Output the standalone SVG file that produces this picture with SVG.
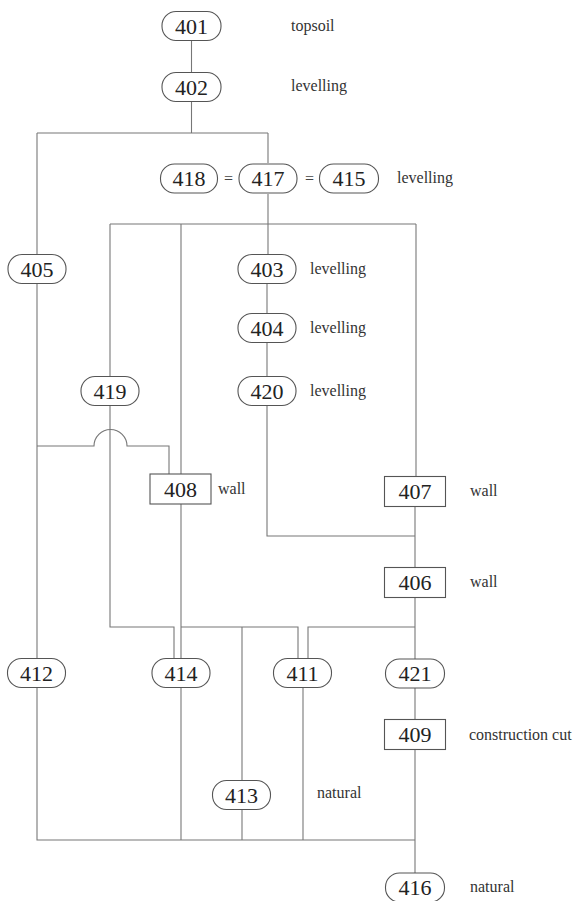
<svg xmlns="http://www.w3.org/2000/svg" width="579" height="901" viewBox="0 0 579 901">
<style>
.n{fill:#fff;stroke:#555;stroke-width:1.1}
.c{fill:none;stroke:#777;stroke-width:1.1}
.t{font-family:"Liberation Serif","Times New Roman",serif;font-size:22px;fill:#222;text-anchor:middle}
.l{font-family:"Liberation Serif","Times New Roman",serif;font-size:16px;fill:#333}
.e{font-family:"Liberation Serif","Times New Roman",serif;font-size:16px;fill:#444;text-anchor:middle}
</style>
<rect width="579" height="901" fill="#fff"/>
<g id="connectors" class="c">
<path d="M191.5,41V72"/>
<path d="M191.5,102V133"/>
<path d="M37,133H268"/>
<path d="M37,133V254"/>
<path d="M37,284V658"/>
<path d="M268,133V163"/>
<path d="M268,194V254"/>
<path d="M110,224H416"/>
<path d="M110,224V376"/>
<path d="M181,224V474"/>
<path d="M416,224V476"/>
<path d="M267,284V313"/>
<path d="M267,343V376"/>
<path d="M267,406V536H415"/>
<path d="M37,446H94A16.5,16.5 0 0 1 127,446H169V474"/>
<path d="M110,406V627H174V658"/>
<path d="M181,504V658"/>
<path d="M181,627H298V658"/>
<path d="M242,627V780"/>
<path d="M415,507V567"/>
<path d="M415,598V659"/>
<path d="M415,627H308V658"/>
<path d="M415,688V719"/>
<path d="M415,750V873"/>
<path d="M37,688V840H415"/>
<path d="M181,688V840"/>
<path d="M242,810V840"/>
<path d="M303,688V840"/>
</g>
<g id="n401"><rect class="n" x="162" y="11.5" width="59" height="29" rx="14"/><text class="t" x="191.5" y="33.5">401</text></g>
<g id="n402"><rect class="n" x="162" y="72.5" width="59" height="29" rx="14"/><text class="t" x="191.5" y="94.5">402</text></g>
<g id="n418"><rect class="n" x="160.5" y="164" width="57" height="29" rx="14"/><text class="t" x="189" y="186">418</text></g>
<g id="n417"><rect class="n" x="239" y="164" width="58" height="29" rx="14"/><text class="t" x="268" y="186">417</text></g>
<g id="n415"><rect class="n" x="319.5" y="164" width="59" height="29" rx="14"/><text class="t" x="349" y="186">415</text></g>
<text class="e" x="228.5" y="184">=</text>
<text class="e" x="309.5" y="184">=</text>
<g id="n405"><rect class="n" x="8" y="254.5" width="58" height="29" rx="14"/><text class="t" x="37" y="276.5">405</text></g>
<g id="n403"><rect class="n" x="238" y="254.5" width="58" height="29" rx="14"/><text class="t" x="267" y="276.5">403</text></g>
<g id="n404"><rect class="n" x="238" y="313.5" width="58" height="29" rx="14"/><text class="t" x="267" y="335.5">404</text></g>
<g id="n419"><rect class="n" x="81" y="376.5" width="58" height="29" rx="14"/><text class="t" x="110" y="398.5">419</text></g>
<g id="n420"><rect class="n" x="238" y="376.5" width="58" height="29" rx="14"/><text class="t" x="267" y="398.5">420</text></g>
<g id="n408"><rect class="n" x="150" y="474" width="61" height="30"/><text class="t" x="180.5" y="496.5">408</text></g>
<g id="n407"><rect class="n" x="384.5" y="476.5" width="61" height="30"/><text class="t" x="415" y="499">407</text></g>
<g id="n406"><rect class="n" x="384.5" y="567.5" width="61" height="30"/><text class="t" x="415" y="590">406</text></g>
<g id="n412"><rect class="n" x="7.5" y="658.5" width="58" height="29" rx="14"/><text class="t" x="36.5" y="680.5">412</text></g>
<g id="n414"><rect class="n" x="152" y="658.5" width="58" height="29" rx="14"/><text class="t" x="181" y="680.5">414</text></g>
<g id="n411"><rect class="n" x="273.5" y="658.5" width="58" height="29" rx="14"/><text class="t" x="302.5" y="680.5">411</text></g>
<g id="n421"><rect class="n" x="385.5" y="659" width="59" height="29" rx="14"/><text class="t" x="415" y="681">421</text></g>
<g id="n409"><rect class="n" x="384.5" y="719.5" width="61" height="30"/><text class="t" x="415" y="742">409</text></g>
<g id="n413"><rect class="n" x="212.5" y="780.5" width="58" height="29" rx="14"/><text class="t" x="241.5" y="802.5">413</text></g>
<g id="n416"><rect class="n" x="385.5" y="873" width="59" height="29" rx="14"/><text class="t" x="415" y="895">416</text></g>
<g id="labels">
<text class="l" x="291" y="31">topsoil</text>
<text class="l" x="291" y="91">levelling</text>
<text class="l" x="397" y="183">levelling</text>
<text class="l" x="310" y="274">levelling</text>
<text class="l" x="310" y="333">levelling</text>
<text class="l" x="310" y="396">levelling</text>
<text class="l" x="218" y="494">wall</text>
<text class="l" x="470" y="496">wall</text>
<text class="l" x="470" y="587">wall</text>
<text class="l" x="469" y="740">construction cut</text>
<text class="l" x="317" y="798">natural</text>
<text class="l" x="470" y="892">natural</text>
</g>
</svg>
